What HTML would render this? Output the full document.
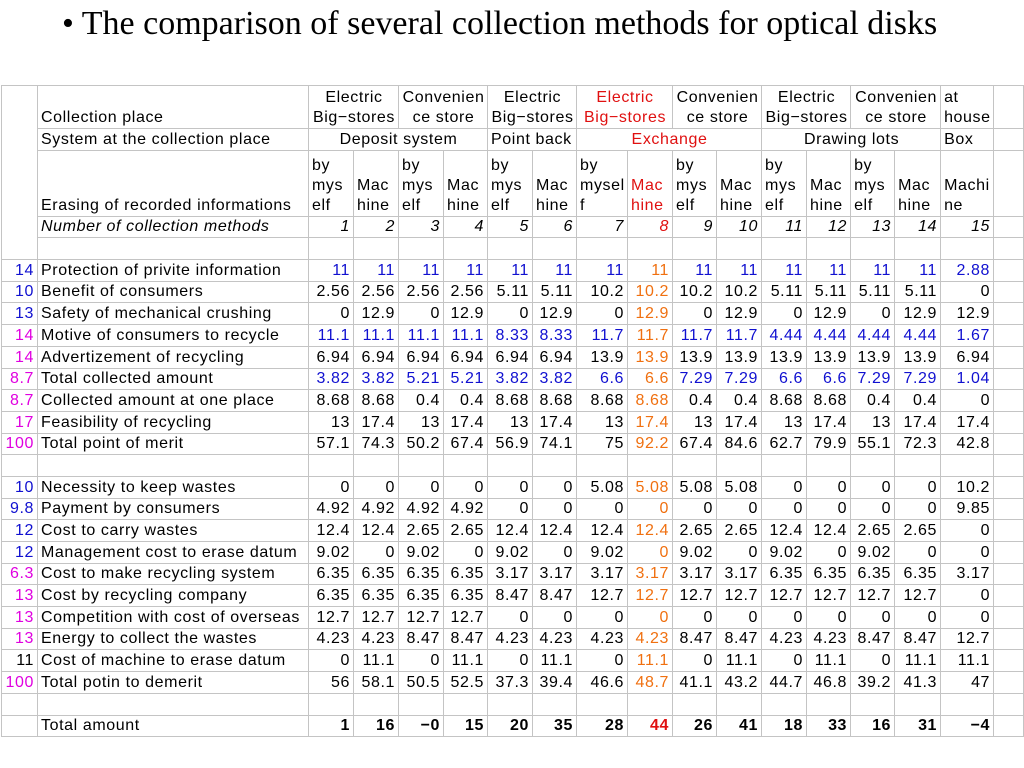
<!DOCTYPE html>
<html><head><meta charset="utf-8">
<style>
html,body{margin:0;padding:0;background:#fff;width:1024px;height:768px;overflow:hidden}
#title{position:absolute;left:62px;top:5px;font-family:"Liberation Serif",serif;font-size:34px;color:#000;white-space:nowrap}
table{position:absolute;left:1px;top:85px;border-collapse:collapse;table-layout:fixed;width:1021px;
 font-family:"Liberation Sans","Noto Sans CJK JP",sans-serif;font-size:16px;letter-spacing:0.6px;color:#000}
td{border:1px solid #c4c4c4;padding:0 2px 0 3px;white-space:nowrap;overflow:hidden;line-height:20px;height:20.7px;vertical-align:bottom}
td.n{text-align:right;padding-right:3px}
td.c{text-align:center}
td.l{text-align:left;vertical-align:bottom}
.blue{color:#1010d0}.mag{color:#e000e0}.org{color:#f07010}.red{color:#e01010}
.it{font-style:italic}
.b{font-weight:bold}
</style></head><body>
<div id="title">• The comparison of several collection methods for optical disks</div>
<table id="tbl">
<colgroup>
<col style="width:36px"><col style="width:271px"><col style="width:45px"><col style="width:45px"><col style="width:45px"><col style="width:44px"><col style="width:45px"><col style="width:44px"><col style="width:51px"><col style="width:45px"><col style="width:44px"><col style="width:45px"><col style="width:45px"><col style="width:44px"><col style="width:44px"><col style="width:46px"><col style="width:53px"><col style="width:30px">
</colgroup>
<tbody id="tb">
<tr style="height:43px">
<td rowspan="5"></td>
<td class="l">Collection place</td>
<td colspan="2" class="c">Electric<br>Big−stores</td>
<td colspan="2" class="c">Convenien<br>ce store</td>
<td colspan="2" class="c">Electric<br>Big−stores</td>
<td colspan="2" class="c red">Electric<br>Big−stores</td>
<td colspan="2" class="c">Convenien<br>ce store</td>
<td colspan="2" class="c">Electric<br>Big−stores</td>
<td colspan="2" class="c">Convenien<br>ce store</td>
<td class="l">at<br>house</td><td></td>
</tr>
<tr>
<td class="l">System at the collection place</td>
<td colspan="4" class="c">Deposit system</td>
<td colspan="2" class="l">Point back</td>
<td colspan="4" class="c red">Exchange</td>
<td colspan="4" class="c">Drawing lots</td>
<td class="l">Box</td><td></td>
</tr>
<tr style="height:66px">
<td class="l">Erasing of recorded informations</td>
<td class="l">by<br>mys<br>elf</td><td class="l">Mac<br>hine</td>
<td class="l">by<br>mys<br>elf</td><td class="l">Mac<br>hine</td>
<td class="l">by<br>mys<br>elf</td><td class="l">Mac<br>hine</td>
<td class="l">by<br>mysel<br>f</td><td class="l red">Mac<br>hine</td>
<td class="l">by<br>mys<br>elf</td><td class="l">Mac<br>hine</td>
<td class="l">by<br>mys<br>elf</td><td class="l">Mac<br>hine</td>
<td class="l">by<br>mys<br>elf</td><td class="l">Mac<br>hine</td>
<td class="l">Machi<br>ne</td><td></td>
</tr>
</tbody>
</table>
<script>
const methodNumbers=["1","2","3","4","5","6","7","8","9","10","11","12","13","14","15"];
const rowLabels=["Protection of privite information","Benefit of consumers","Safety of mechanical crushing","Motive of consumers to recycle","Advertizement of recycling","Total collected amount","Collected amount at one place","Feasibility of recycling","Total point of merit","","Necessity to keep wastes","Payment by consumers","Cost to carry wastes","Management cost to erase datum","Cost to make recycling system","Cost by recycling company","Competition with cost of overseas","Energy to collect the wastes","Cost of machine to erase datum","Total potin to demerit","","Total amount"];
const weights=["14","10","13","14","14","8.7","8.7","17","100","","10","9.8","12","12","6.3","13","13","13","11","100","",""];
const weightColors=["blue","blue","blue","mag","mag","mag","mag","mag","mag","","blue","blue","blue","blue","mag","mag","mag","mag","","mag","",""];
const rowBlue=[1,0,0,1,0,1,0,0,0,0,0,0,0,0,0,0,0,0,0,0,0,0];
const values=[
["11","11","11","11","11","11","11","11","11","11","11","11","11","11","2.88"],
["2.56","2.56","2.56","2.56","5.11","5.11","10.2","10.2","10.2","10.2","5.11","5.11","5.11","5.11","0"],
["0","12.9","0","12.9","0","12.9","0","12.9","0","12.9","0","12.9","0","12.9","12.9"],
["11.1","11.1","11.1","11.1","8.33","8.33","11.7","11.7","11.7","11.7","4.44","4.44","4.44","4.44","1.67"],
["6.94","6.94","6.94","6.94","6.94","6.94","13.9","13.9","13.9","13.9","13.9","13.9","13.9","13.9","6.94"],
["3.82","3.82","5.21","5.21","3.82","3.82","6.6","6.6","7.29","7.29","6.6","6.6","7.29","7.29","1.04"],
["8.68","8.68","0.4","0.4","8.68","8.68","8.68","8.68","0.4","0.4","8.68","8.68","0.4","0.4","0"],
["13","17.4","13","17.4","13","17.4","13","17.4","13","17.4","13","17.4","13","17.4","17.4"],
["57.1","74.3","50.2","67.4","56.9","74.1","75","92.2","67.4","84.6","62.7","79.9","55.1","72.3","42.8"],
[],
["0","0","0","0","0","0","5.08","5.08","5.08","5.08","0","0","0","0","10.2"],
["4.92","4.92","4.92","4.92","0","0","0","0","0","0","0","0","0","0","9.85"],
["12.4","12.4","2.65","2.65","12.4","12.4","12.4","12.4","2.65","2.65","12.4","12.4","2.65","2.65","0"],
["9.02","0","9.02","0","9.02","0","9.02","0","9.02","0","9.02","0","9.02","0","0"],
["6.35","6.35","6.35","6.35","3.17","3.17","3.17","3.17","3.17","3.17","6.35","6.35","6.35","6.35","3.17"],
["6.35","6.35","6.35","6.35","8.47","8.47","12.7","12.7","12.7","12.7","12.7","12.7","12.7","12.7","0"],
["12.7","12.7","12.7","12.7","0","0","0","0","0","0","0","0","0","0","0"],
["4.23","4.23","8.47","8.47","4.23","4.23","4.23","4.23","8.47","8.47","4.23","4.23","8.47","8.47","12.7"],
["0","11.1","0","11.1","0","11.1","0","11.1","0","11.1","0","11.1","0","11.1","11.1"],
["56","58.1","50.5","52.5","37.3","39.4","46.6","48.7","41.1","43.2","44.7","46.8","39.2","41.3","47"],
[],
["1","16","−0","15","20","35","28","44","26","41","18","33","16","31","−4"]
];
const tb=document.getElementById('tb');
let tr=document.createElement('tr');


let td=document.createElement('td');td.className='it';td.textContent='Number of collection methods';tr.appendChild(td);
methodNumbers.forEach((n,i)=>{const c=document.createElement('td');c.className='n it'+(i===7?' red':'');c.textContent=n;


tr.appendChild(c);});
tr.appendChild(document.createElement('td'));
tb.appendChild(tr);
tr=document.createElement('tr');


for(let i=0;i<17;i++)tr.appendChild(document.createElement('td'));
tb.appendChild(tr);
rowLabels.forEach((lab,r)=>{
 const row=document.createElement('tr');
 
 
 const w=document.createElement('td');w.className='n '+weightColors[r];w.textContent=weights[r];
 
 
 row.appendChild(w);
 const l=document.createElement('td');l.textContent=lab;
 
 
 row.appendChild(l);
 const isTotal=(r===rowLabels.length-1);
 for(let i=0;i<15;i++){
  const c=document.createElement('td');
  let cls='n';
  const v=values[r][i];
  if(v!==undefined){
   if(isTotal){cls+=' b'+(i===7?' red':'');}
   else if(i===7)cls+=' org';
   else if(rowBlue[r])cls+=' blue';
   c.textContent=v;
  }
  c.className=cls;
  
  
  row.appendChild(c);
 }
 row.appendChild(document.createElement('td'));
 tb.appendChild(row);
});
</script>
</body></html>
